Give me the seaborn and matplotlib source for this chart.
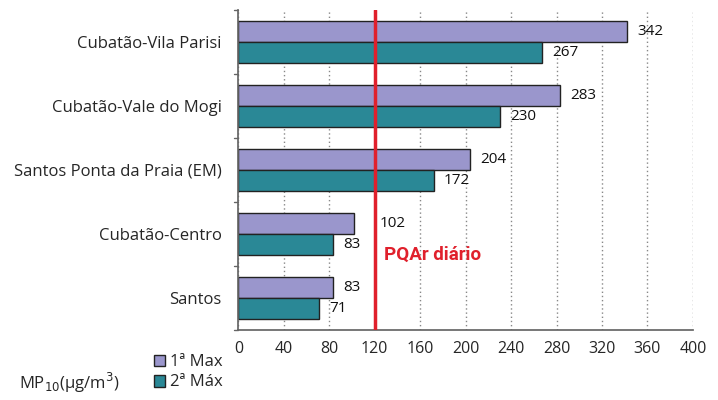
import pandas as pd
import matplotlib.pyplot as plt
import seaborn as sns

stations = ['Cubatão-Vila Parisi', 'Cubatão-Vale do Mogi', 'Santos Ponta da Praia (EM)',
            'Cubatão-Centro', 'Santos']
max1 = [342, 283, 204, 102, 83]
max2 = [267, 230, 172, 83, 71]
series = ['1ª Max', '2ª Máx']
pqar = 120
xticks = list(range(0, 401, 40))

df = pd.DataFrame({'Estação': stations * 2,
                   'Valor': max1 + max2,
                   'Série': [series[0]] * 5 + [series[1]] * 5})

sns.set_theme(style='white')
plt.rcParams['font.family'] = ['Open Sans', 'DejaVu Sans']

fig, ax = plt.subplots(figsize=(7.18, 4.0), dpi=100)
fig.subplots_adjust(left=0.332, right=0.965, top=0.975, bottom=0.175)

sns.barplot(data=df, y='Estação', x='Valor', hue='Série', orient='h',
            palette=['#9A96CC', '#2A8896'], width=0.66, edgecolor='#222222',
            linewidth=1.0, ax=ax, saturation=1)

ax.set_xlim(0, 400)
ax.set_xticks(xticks)
ax.set_ylim(4.5, -0.5)
ax.set_xlabel('')
ax.set_ylabel('')
ax.tick_params(axis='x', labelsize=11.5, length=5, color='#555555', direction='out', pad=3)
ax.tick_params(axis='y', labelsize=12, length=0, pad=12)
ax.xaxis.grid(True, linestyle=(0, (1, 2)), color='#888888', linewidth=1.0)
ax.set_axisbelow(True)
for s in ['top', 'right']:
    ax.spines[s].set_visible(False)
for s in ['left', 'bottom']:
    ax.spines[s].set_color('#666666')

# small boundary ticks on left spine
for b in [i - 0.5 for i in range(6)]:
    ax.plot([-4, 0], [b, b], color='#666666', lw=1, clip_on=False)

# value labels
for cont in ax.containers:
    for bar in cont:
        v = bar.get_width()
        y = bar.get_y() + bar.get_height() / 2
        x = v + 9
        if v < pqar and v + 20 > pqar:
            x = pqar + 4
        ax.text(x, y, f'{int(v)}', va='center', ha='left', fontsize=11, color='#111111')

ax.axvline(pqar, color='#E0202C', lw=2.5, zorder=5)
ax.text(pqar + 8, 3.32, 'PQAr diário', color='#E0202C', fontsize=13.5, fontweight='bold',
        va='center', ha='left', family=['Roboto', 'DejaVu Sans'])

leg = ax.legend(loc='upper left', bbox_to_anchor=(-0.205, -0.05), frameon=False,
                fontsize=12, handlelength=0.7, handleheight=0.7, handletextpad=0.3,
                labelspacing=0.25, borderpad=0)
fig.text(0.027, 0.042, 'MP$_{10}$(µg/m$^3$)', fontsize=12, va='center', ha='left')

fig.savefig('out.png', dpi=100)
